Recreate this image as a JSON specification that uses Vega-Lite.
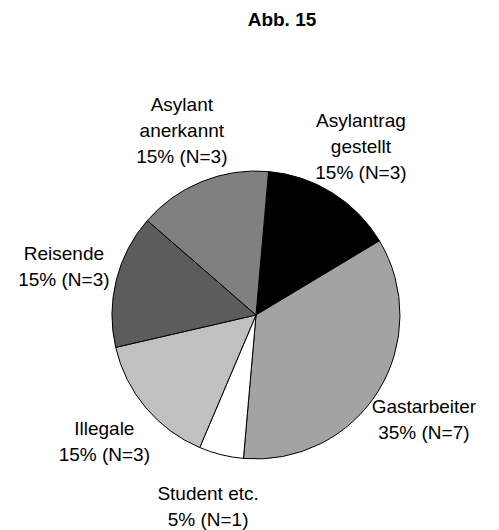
{
  "$schema": "https://vega.github.io/schema/vega-lite/v6.json",
  "width": 486,
  "height": 430,
  "autosize": {"type": "none"},
  "padding": {"left": 13, "top": 100, "right": 0, "bottom": 0},
  "background": "white",
  "title": {
    "text": "Abb. 15",
    "font": "Liberation Sans",
    "fontSize": 19,
    "fontWeight": "bold",
    "color": "black",
    "anchor": "middle",
    "frame": "group",
    "baseline": "alphabetic",
    "offset": 51,
    "dx": 26
  },
  "config": {"view": {"stroke": null}},
  "data": {
    "values": [
      {"order": 1, "category": "Asylantrag gestellt", "n": 3, "lines": 3, "label": "Asylantrag\ngestellt\n15% (N=3)"},
      {"order": 2, "category": "Gastarbeiter", "n": 7, "lines": 2, "label": "Gastarbeiter\n35% (N=7)"},
      {"order": 3, "category": "Student etc.", "n": 1, "lines": 2, "label": "Student etc.\n5% (N=1)"},
      {"order": 4, "category": "Illegale", "n": 3, "lines": 2, "label": "Illegale\n15% (N=3)"},
      {"order": 5, "category": "Reisende", "n": 3, "lines": 2, "label": "Reisende\n15% (N=3)"},
      {"order": 6, "category": "Asylant anerkannt", "n": 3, "lines": 3, "label": "Asylant\nanerkannt\n15% (N=3)"}
    ]
  },
  "encoding": {
    "theta": {"field": "n", "type": "quantitative", "stack": true, "scale": {"range": [0.0873, 6.3705]}},
    "order": {"field": "order", "type": "quantitative"}
  },
  "layer": [
    {
      "mark": {"type": "arc", "outerRadius": 144, "stroke": "black", "strokeWidth": 1},
      "encoding": {
        "color": {
          "field": "category",
          "type": "nominal",
          "legend": null,
          "scale": {
            "domain": ["Asylantrag gestellt", "Gastarbeiter", "Student etc.", "Illegale", "Reisende", "Asylant anerkannt"],
            "range": ["#000000", "#a3a3a3", "#ffffff", "#c0c0c0", "#5c5c5c", "#808080"]
          }
        }
      }
    },
    {
      "mark": {"type": "text", "radius": 198, "dy": -13, "lineBreak": "\n", "font": "Liberation Sans", "fontSize": 19, "lineHeight": 26, "align": "center", "baseline": "middle", "color": "black"},
      "encoding": {
        "text": {"field": "label", "type": "nominal"},
        "opacity": {"condition": {"test": "datum.lines == 2", "value": 1}, "value": 0}
      }
    },
    {
      "mark": {"type": "text", "radius": 198, "dy": -26, "lineBreak": "\n", "font": "Liberation Sans", "fontSize": 19, "lineHeight": 26, "align": "center", "baseline": "middle", "color": "black"},
      "encoding": {
        "text": {"field": "label", "type": "nominal"},
        "opacity": {"condition": {"test": "datum.lines == 3", "value": 1}, "value": 0}
      }
    }
  ]
}
